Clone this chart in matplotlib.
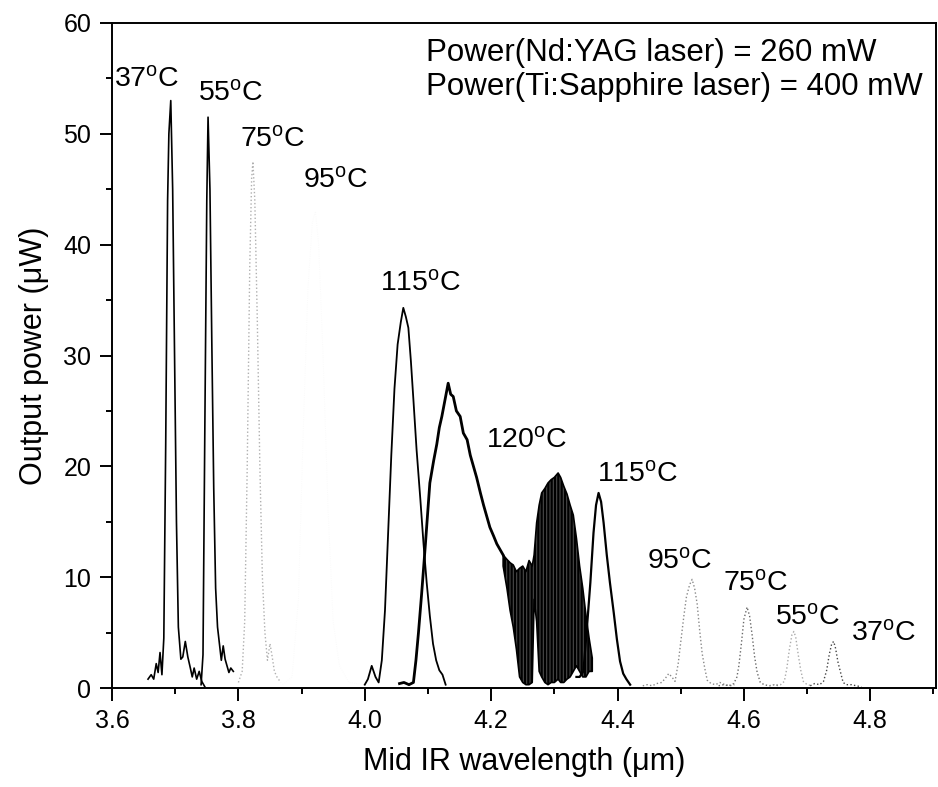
import matplotlib
matplotlib.use("Agg")
import matplotlib.pyplot as plt
from matplotlib.ticker import MultipleLocator

plt.rcParams['font.family'] = ['Liberation Sans', 'DejaVu Sans']
plt.rcParams['mathtext.fontset'] = 'custom'
plt.rcParams['mathtext.rm'] = 'Liberation Sans'
plt.rcParams['mathtext.it'] = 'Liberation Sans:italic'
plt.rcParams['hatch.linewidth'] = 1.6

# ---------------- data ----------------
# left group (signal side)
x37L = [3.657, 3.662, 3.666, 3.670, 3.673, 3.676, 3.679, 3.682, 3.685, 3.688, 3.690, 3.693, 3.696, 3.699,
        3.702, 3.705, 3.709, 3.712, 3.716, 3.720, 3.724, 3.727, 3.730, 3.734, 3.738, 3.742, 3.747]
y37L = [0.8, 1.2, 0.8, 2.2, 1.4, 3.2, 1.2, 4.5, 22.0, 44.0, 50.0, 53.0, 45.0, 30.0,
        15.0, 5.5, 2.6, 2.8, 4.2, 2.8, 1.8, 1.0, 1.8, 0.8, 1.5, 0.6, 0.1]

x55L = [3.741, 3.744, 3.747, 3.750, 3.752, 3.755, 3.758, 3.761, 3.764, 3.767, 3.770,
        3.773, 3.776, 3.779, 3.782, 3.785, 3.788, 3.792]
y55L = [0.3, 3.0, 24.0, 44.0, 51.5, 45.0, 31.0, 18.0, 9.0, 5.5, 4.0,
        2.5, 3.8, 2.6, 2.0, 1.4, 1.8, 1.5]

x75L = [3.800, 3.806, 3.810, 3.814, 3.818, 3.821, 3.823, 3.826, 3.830, 3.834, 3.838,
        3.842, 3.846, 3.850, 3.853, 3.857, 3.861, 3.867]
y75L = [0.5, 1.5, 6.0, 20.0, 38.0, 46.0, 47.5, 44.0, 33.0, 20.0, 10.0,
        5.0, 2.5, 4.0, 3.0, 1.5, 1.0, 0.5]

x95L = [3.870, 3.885, 3.895, 3.902, 3.910, 3.917, 3.922, 3.927, 3.934, 3.942, 3.950, 3.960, 3.975, 4.000]
y95L = [0.3, 1.0, 8.0, 22.0, 36.0, 42.0, 43.0, 40.0, 30.0, 16.0, 6.0, 2.0, 0.5, 0.3]

x115L = [4.000, 4.005, 4.011, 4.017, 4.022, 4.027, 4.032, 4.037, 4.042, 4.047, 4.052, 4.057, 4.061,
         4.065, 4.069, 4.073, 4.077, 4.082, 4.088, 4.093, 4.098, 4.103, 4.108, 4.113, 4.118, 4.123, 4.128]
y115L = [0.3, 0.8, 2.0, 1.0, 0.5, 2.5, 7.0, 14.0, 21.0, 27.0, 31.0, 33.0, 34.3,
         33.5, 32.5, 29.5, 26.0, 21.5, 17.0, 13.0, 9.5, 6.5, 4.0, 2.5, 1.6, 1.2, 0.3]

# 120 C (broad, noisy)
x120 = [4.055, 4.062, 4.070, 4.077, 4.081, 4.085, 4.090, 4.096, 4.103, 4.109, 4.114, 4.118, 4.122,
        4.127, 4.132, 4.136, 4.140, 4.145, 4.151, 4.156, 4.162, 4.167, 4.172, 4.177, 4.183, 4.188,
        4.193, 4.198, 4.204, 4.209, 4.214, 4.219]
y120 = [0.4, 0.5, 0.3, 0.5, 2.5, 5.0, 8.5, 13.0, 18.5, 20.5, 22.0, 23.5, 24.5,
        26.0, 27.5, 26.5, 26.3, 25.0, 24.5, 23.0, 22.4, 21.0, 20.0, 19.0, 17.6, 16.5,
        15.5, 14.5, 13.7, 13.0, 12.5, 12.0]
x120band = [4.219, 4.225, 4.230, 4.235, 4.240, 4.245, 4.250, 4.255, 4.260, 4.265, 4.268, 4.272,
            4.276, 4.280, 4.285, 4.290, 4.295, 4.300, 4.306, 4.310, 4.315, 4.320, 4.325, 4.330,
            4.335, 4.340, 4.345, 4.350, 4.355, 4.360]
y120up = [12.0, 11.6, 11.3, 11.1, 10.5, 10.8, 11.0, 10.5, 11.5, 11.0, 12.0, 14.9,
          16.5, 17.6, 18.0, 18.5, 18.8, 19.0, 19.4, 19.0, 18.2, 17.5, 16.5, 15.6,
          13.5, 11.0, 9.0, 6.6, 4.5, 2.7]
y120lo = [11.0, 9.0, 7.0, 5.5, 3.5, 1.0, 0.5, 0.3, 0.3, 0.5, 8.0, 6.0,
          1.5, 1.0, 0.5, 0.3, 0.5, 0.5, 0.8, 0.5, 0.5, 0.8, 1.0, 1.5,
          2.0, 1.5, 1.0, 1.0, 1.5, 1.5]

# right group (idler side)
x115R = [4.335, 4.340, 4.346, 4.351, 4.357, 4.362, 4.366, 4.370, 4.374, 4.378, 4.383, 4.388,
         4.394, 4.399, 4.404, 4.409, 4.414, 4.420]
y115R = [1.0, 1.0, 1.5, 5.0, 9.5, 14.0, 16.5, 17.6, 16.8, 14.9, 12.0, 9.5,
         6.8, 4.4, 2.4, 1.3, 0.8, 0.3]

x95R = [4.440, 4.447, 4.455, 4.462, 4.470, 4.476, 4.481, 4.486, 4.491, 4.496, 4.501, 4.505, 4.509,
        4.514, 4.518, 4.522, 4.526, 4.530, 4.534, 4.538, 4.542, 4.548, 4.555, 4.562, 4.570, 4.578, 4.585]
y95R = [0.2, 0.3, 0.2, 0.4, 0.5, 0.9, 1.3, 1.0, 0.6, 2.2, 4.6, 6.5, 8.2,
        9.3, 9.8, 9.0, 7.6, 5.2, 3.1, 1.8, 0.7, 0.4, 0.3, 0.5, 0.3, 0.2, 0.3]

x75R = [4.560, 4.568, 4.576, 4.584, 4.589, 4.592, 4.596, 4.600, 4.605, 4.609, 4.613, 4.617,
        4.621, 4.626, 4.632, 4.640, 4.648, 4.655]
y75R = [0.2, 0.3, 0.2, 0.4, 1.0, 2.0, 4.0, 6.2, 7.3, 6.5, 4.8, 2.8,
        1.4, 0.5, 0.3, 0.2, 0.3, 0.2]

x55R = [4.640, 4.650, 4.658, 4.664, 4.668, 4.672, 4.676, 4.679, 4.682, 4.686, 4.690, 4.694, 4.700, 4.708]
y55R = [0.2, 0.3, 0.3, 0.6, 1.8, 3.5, 4.8, 5.1, 4.6, 3.0, 1.6, 0.6, 0.3, 0.2]

x37R = [4.705, 4.712, 4.720, 4.726, 4.731, 4.735, 4.739, 4.742, 4.745, 4.749, 4.753, 4.757,
        4.762, 4.770, 4.778, 4.786]
y37R = [0.2, 0.4, 0.3, 0.6, 1.6, 3.0, 4.0, 4.2, 3.6, 2.3, 1.4, 0.5,
        0.3, 0.3, 0.2, 0.1]

# temperature labels: text, x, y
label_text = ['37', '55', '75', '95', '115', '120', '115', '95', '75', '55', '37']
label_x = [3.655, 3.787, 3.855, 3.954, 4.089, 4.2565, 4.432, 4.499, 4.618, 4.701, 4.821]
label_y = [54.9, 53.6, 49.5, 45.8, 36.5, 22.3, 19.3, 11.4, 9.45, 6.4, 4.9]

info_lines = ['Power(Nd:YAG laser) = 260 mW', 'Power(Ti:Sapphire laser) = 400 mW']
info_x = 4.0966
info_y = [57.3, 54.2]

# ---------------- plot ----------------
fig = plt.figure(figsize=(9.38, 7.87), dpi=100)
ax = fig.add_axes([112/938, 1-688/787, (936-112)/938, (688-23)/787])

ax.plot(x37L, y37L, color='black', lw=1.2)
ax.plot(x55L, y55L, color='black', lw=1.2)
ax.plot(x75L, y75L, color='#b0b0b0', lw=1.0, ls=':')
ax.plot(x95L, y95L, color='#f9f9f9', lw=0.6, ls=':')
ax.plot(x115L, y115L, color='black', lw=1.3)
ax.plot(x120, y120, color='black', lw=2.0)
ax.fill_between(x120band, y120lo, y120up, facecolor='#4a4a4a', hatch='|||||',
                edgecolor='black', lw=1.2)
ax.plot(x115R, y115R, color='black', lw=1.6)
ax.plot(x95R, y95R, color='#8a8a8a', lw=1.0, ls=':')
ax.plot(x75R, y75R, color='#6a6a6a', lw=1.0, ls=':')
ax.plot(x55R, y55R, color='#ababab', lw=1.0, ls=':')
ax.plot(x37R, y37R, color='#444444', lw=1.0, ls=':')

for t, x, y in zip(label_text, label_x, label_y):
    ax.text(x, y, t + r'$^{\mathrm{o}}$C', fontsize=20.5, ha='center', va='center')

for line, y in zip(info_lines, info_y):
    ax.text(info_x, y, line, fontsize=22.5, ha='left', va='center')

ax.set_xlim(3.6, 4.904)
ax.set_ylim(0, 60)
ax.xaxis.set_major_locator(MultipleLocator(0.2))
ax.xaxis.set_minor_locator(MultipleLocator(0.1))
ax.yaxis.set_major_locator(MultipleLocator(10))
ax.yaxis.set_minor_locator(MultipleLocator(5))
ax.xaxis.set_major_formatter(plt.FuncFormatter(lambda v, p: f'{v:.1f}'))
ax.tick_params(which='major', direction='out', length=9, width=1.4, labelsize=18, pad=6)
ax.tick_params(which='minor', direction='out', length=4.5, width=1.4)
ax.tick_params(top=False, right=False)
for s in ax.spines.values():
    s.set_linewidth(1.4)

ax.set_xlabel('Mid IR wavelength (\u03bcm)', fontsize=22, labelpad=10)
ax.set_ylabel('Output power (\u03bcW)', fontsize=22, labelpad=10)

fig.savefig('out.png', dpi=100)
